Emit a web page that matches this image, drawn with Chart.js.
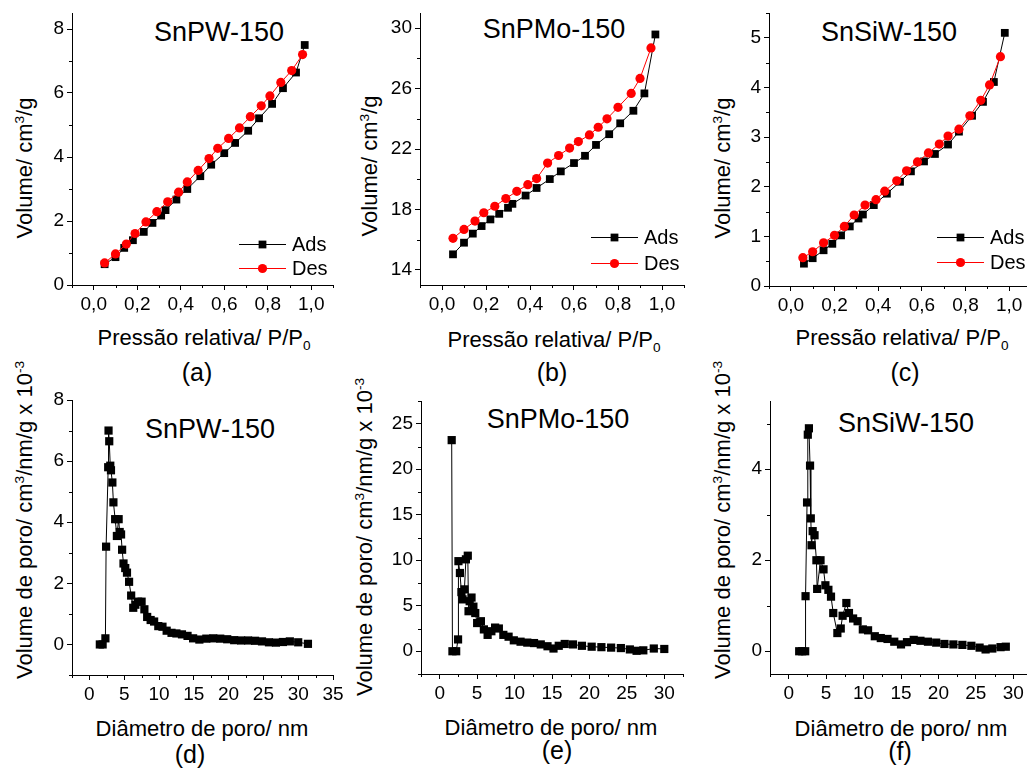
<!DOCTYPE html>
<html>
<head>
<meta charset="utf-8">
<script src="https://cdn.jsdelivr.net/npm/chart.js@4.4.0/dist/chart.umd.min.js"></script>
<style>
html, body { margin: 0; padding: 0; background: #fff; overflow: hidden; }
body { width: 1027px; height: 769px; position: relative; font-family: "Liberation Sans", Arial, sans-serif; color: #000; }
canvas { position: absolute; }
.t { position: absolute; white-space: nowrap; line-height: 1; transform: translate(-50%, -50%); }
.yt { transform: translate(-50%, -50%) rotate(-90deg); }
.ax { font-size: 22px; }
.name { font-size: 27px; }
.lab { font-size: 25px; }
sup, sub { font-size: 0.62em; line-height: 0; }
</style>
</head>
<body>

<!-- titulos dos paineis -->
<div class="t name" style="left:219px;top:32px">SnPW-150</div>
<div class="t name" style="left:554px;top:29px">SnPMo-150</div>
<div class="t name" style="left:889px;top:32px">SnSiW-150</div>
<div class="t name" style="left:210px;top:429px">SnPW-150</div>
<div class="t name" style="left:558px;top:419px">SnPMo-150</div>
<div class="t name" style="left:906px;top:423px">SnSiW-150</div>

<!-- eixos y -->
<div class="t ax yt" style="left:25px;top:168px">Volume/ cm<sup>3</sup>/g</div>
<div class="t ax yt" style="left:370px;top:166px">Volume/ cm<sup>3</sup>/g</div>
<div class="t ax yt" style="left:723px;top:168px">Volume/ cm<sup>3</sup>/g</div>
<div class="t ax yt" style="left:25px;top:520px">Volume de poro/ cm<sup>3</sup>/nm/g x 10<sup>-3</sup></div>
<div class="t ax yt" style="left:365px;top:537px">Volume de poro/ cm<sup>3</sup>/nm/g x 10<sup>-3</sup></div>
<div class="t ax yt" style="left:723px;top:520px">Volume de poro/ cm<sup>3</sup>/nm/g x 10<sup>-3</sup></div>

<!-- eixos x -->
<div class="t ax" style="left:204px;top:338px">Pressão relativa/ P/P<sub>0</sub></div>
<div class="t ax" style="left:554px;top:340px">Pressão relativa/ P/P<sub>0</sub></div>
<div class="t ax" style="left:902px;top:338px">Pressão relativa/ P/P<sub>0</sub></div>
<div class="t ax" style="left:202px;top:729px">Diâmetro de poro/ nm</div>
<div class="t ax" style="left:551px;top:728px">Diâmetro de poro/ nm</div>
<div class="t ax" style="left:901px;top:729px">Diâmetro de poro/ nm</div>

<!-- letras -->
<div class="t lab" style="left:197px;top:372px">(a)</div>
<div class="t lab" style="left:552px;top:372px">(b)</div>
<div class="t lab" style="left:905px;top:372px">(c)</div>
<div class="t lab" style="left:190px;top:754px">(d)</div>
<div class="t lab" style="left:557px;top:750px">(e)</div>
<div class="t lab" style="left:900px;top:751px">(f)</div>

<script>
// ---- dados ----
// (a) SnPW-150 isoterma
const presA_ads = [0.05, 0.10, 0.14, 0.18, 0.23, 0.27, 0.31, 0.33, 0.38, 0.43, 0.49, 0.54, 0.60, 0.65, 0.71, 0.76, 0.82, 0.87, 0.93, 0.97];
const volA_ads  = [0.65, 0.87, 1.16, 1.40, 1.66, 1.94, 2.17, 2.34, 2.67, 3.00, 3.40, 3.76, 4.12, 4.44, 4.82, 5.21, 5.66, 6.15, 6.64, 7.50];
const presA_des = [0.05, 0.10, 0.15, 0.19, 0.24, 0.29, 0.34, 0.39, 0.43, 0.48, 0.53, 0.57, 0.62, 0.67, 0.72, 0.77, 0.81, 0.86, 0.91, 0.96];
const volA_des  = [0.69, 0.97, 1.28, 1.61, 1.97, 2.29, 2.60, 2.90, 3.22, 3.58, 3.95, 4.27, 4.58, 4.91, 5.26, 5.60, 5.91, 6.33, 6.70, 7.20];

// (b) SnPMo-150 isoterma
const presB_ads = [0.05, 0.10, 0.14, 0.18, 0.22, 0.26, 0.30, 0.32, 0.38, 0.43, 0.49, 0.54, 0.60, 0.65, 0.70, 0.76, 0.81, 0.87, 0.92, 0.97];
const volB_ads  = [15.03, 15.80, 16.40, 16.90, 17.34, 17.71, 18.11, 18.37, 18.92, 19.42, 20.01, 20.52, 21.07, 21.55, 22.27, 22.98, 23.70, 24.53, 25.68, 29.58];
const presB_des = [0.05, 0.10, 0.15, 0.19, 0.24, 0.29, 0.34, 0.39, 0.43, 0.48, 0.53, 0.58, 0.62, 0.67, 0.71, 0.75, 0.80, 0.86, 0.90, 0.95];
const volB_des  = [16.09, 16.68, 17.23, 17.78, 18.21, 18.72, 19.20, 19.64, 20.04, 21.07, 21.57, 22.06, 22.49, 22.93, 23.44, 24.00, 24.76, 25.68, 26.67, 28.69];

// (c) SnSiW-150 isoterma
const presC_ads = [0.06, 0.10, 0.15, 0.19, 0.23, 0.27, 0.31, 0.33, 0.38, 0.44, 0.50, 0.55, 0.61, 0.66, 0.72, 0.77, 0.83, 0.88, 0.93, 0.98];
const volC_ads  = [0.45, 0.56, 0.72, 0.85, 1.02, 1.20, 1.36, 1.44, 1.63, 1.86, 2.10, 2.31, 2.51, 2.66, 2.85, 3.11, 3.43, 3.71, 4.11, 5.10];
const presC_des = [0.055, 0.10, 0.15, 0.20, 0.245, 0.29, 0.34, 0.39, 0.43, 0.485, 0.53, 0.58, 0.63, 0.68, 0.72, 0.77, 0.82, 0.87, 0.91, 0.96];
const volC_des  = [0.57, 0.69, 0.87, 1.02, 1.20, 1.43, 1.63, 1.74, 1.91, 2.12, 2.32, 2.50, 2.68, 2.86, 3.02, 3.16, 3.43, 3.74, 4.05, 4.62];

// (d) SnPW-150 distribuicao de poros
const diamD = [1.5, 1.9, 2.3, 2.4, 2.7, 2.75, 2.85, 3.0, 3.1, 3.3, 3.45, 3.7, 3.95, 4.2, 4.35, 4.55, 4.7, 4.9, 5.15, 5.4, 5.7, 6.0, 6.3, 6.6, 7.0, 7.5, 7.9, 8.3, 8.8, 9.3, 9.9, 10.5, 11.1, 11.8, 12.5, 13.3, 14.1, 14.9, 15.8, 16.8, 17.8, 18.8, 19.8, 20.8, 21.8, 22.8, 23.8, 24.8, 25.8, 26.8, 27.8, 28.8, 30.0, 31.4];
const volD  = [0, 0, 0.2, 3.2, 5.8, 7.0, 6.65, 5.85, 5.7, 5.3, 4.65, 4.1, 3.55, 4.1, 3.68, 3.6, 3.1, 2.65, 2.5, 2.35, 2.05, 1.6, 1.2, 1.3, 1.4, 1.4, 1.15, 0.9, 0.8, 0.75, 0.6, 0.58, 0.45, 0.38, 0.36, 0.33, 0.28, 0.2, 0.16, 0.19, 0.2, 0.19, 0.17, 0.14, 0.13, 0.13, 0.12, 0.1, 0.07, 0.06, 0.08, 0.1, 0.07, 0.02];

// (e) SnPMo-150 distribuicao de poros
const diamE = [1.6, 1.7, 2.2, 2.45, 2.5, 2.7, 2.9, 3.05, 3.3, 3.5, 3.75, 3.85, 4.0, 4.25, 4.5, 4.75, 5.0, 5.5, 5.9, 6.4, 6.9, 7.4, 7.9, 8.5, 9.2, 9.9, 10.8, 11.7, 12.6, 13.5, 14.4, 15.2, 15.9, 16.7, 17.8, 19.0, 20.3, 21.6, 22.9, 24.2, 25.4, 26.3, 27.2, 28.6, 30.0];
const volE  = [23.2, 0, 0, 1.3, 9.9, 8.6, 6.5, 5.7, 6.8, 10.1, 10.5, 4.4, 5.5, 5.9, 4.9, 4.2, 3.1, 3.3, 2.4, 1.8, 2.2, 2.6, 2.5, 1.8, 1.6, 1.2, 1.05, 0.95, 0.9, 0.75, 0.55, 0.3, 0.6, 0.8, 0.75, 0.6, 0.5, 0.45, 0.4, 0.35, 0.2, 0.05, 0.1, 0.3, 0.25];

// (f) SnSiW-150 distribuicao de poros
const diamF = [1.4, 1.8, 2.2, 2.25, 2.45, 2.55, 2.7, 2.85, 2.95, 3.05, 3.2, 3.45, 3.7, 3.8, 4.25, 4.65, 4.9, 5.3, 5.65, 5.95, 6.5, 6.95, 7.2, 7.7, 8.05, 8.6, 9.2, 9.9, 10.6, 11.5, 12.3, 13.2, 14.1, 15.0, 15.8, 16.7, 17.6, 18.6, 19.7, 20.8, 22.0, 23.2, 24.4, 25.5, 26.3, 27.2, 28.3, 29.0];
const volF  = [0, 0, 0, 1.21, 3.27, 4.76, 4.9, 4.08, 2.92, 2.33, 2.64, 2.55, 2.0, 1.37, 2.0, 1.8, 1.45, 1.35, 1.2, 0.84, 0.4, 0.5, 0.78, 1.06, 0.84, 0.72, 0.66, 0.48, 0.46, 0.33, 0.29, 0.27, 0.21, 0.15, 0.2, 0.25, 0.23, 0.21, 0.19, 0.16, 0.15, 0.14, 0.12, 0.08, 0.04, 0.06, 0.09, 0.1];

// ---- aparencia ----
const FONT = '"Liberation Sans", Arial, sans-serif';
const INK = '#000';
const RED = '#ff0000';

function pts(xs, ys) {
    return xs.map((x, i) => ({ x: x, y: ys[i] }));
}

function range(a, b, step) {
    const out = [];
    for (let v = a; v <= b + 1e-9; v += step) out.push(Math.round(v * 1000) / 1000);
    return out;
}

const comma = v => v.toFixed(1).replace('.', ',');

// tracinhos menores nos eixos
const minorTicks = {
    id: 'minorTicks',
    afterDraw(chart, args, opts) {
        const ctx = chart.ctx;
        const xs = chart.scales.x, ys = chart.scales.y;
        ctx.save();
        ctx.strokeStyle = INK;
        ctx.lineWidth = 1;
        (opts.x || []).forEach(v => {
            const px = Math.round(xs.getPixelForValue(v)) + 0.5;
            ctx.beginPath();
            ctx.moveTo(px, xs.top);
            ctx.lineTo(px, xs.top + 3);
            ctx.stroke();
        });
        (opts.y || []).forEach(v => {
            const py = Math.round(ys.getPixelForValue(v)) + 0.5;
            ctx.beginPath();
            ctx.moveTo(ys.right, py);
            ctx.lineTo(ys.right - 3, py);
            ctx.stroke();
        });
        ctx.restore();
    }
};

// legenda estilo Origin: linha + simbolo
const lineLegend = {
    id: 'lineLegend',
    afterDraw(chart, args, opts) {
        if (!opts.show) return;
        const ctx = chart.ctx;
        const area = chart.chartArea;
        const x0 = area.right + opts.dx;
        chart.data.datasets.forEach((ds, i) => {
            const y = area.bottom + opts.dy + i * opts.gap;
            ctx.save();
            ctx.strokeStyle = ds.borderColor;
            ctx.lineWidth = 1;
            ctx.beginPath();
            ctx.moveTo(x0, y + 0.5);
            ctx.lineTo(x0 + 47, y + 0.5);
            ctx.stroke();
            ctx.fillStyle = ds.pointBackgroundColor;
            Chart.helpers.drawPoint(ctx, {
                pointStyle: ds.pointStyle, radius: ds.pointRadius, borderWidth: 0, rotation: 0
            }, x0 + 23.5, y + 0.5);
            ctx.fillStyle = INK;
            ctx.font = '20px ' + FONT;
            ctx.textBaseline = 'middle';
            ctx.textAlign = 'left';
            ctx.fillText(ds.label, x0 + 53, y + 1);
            ctx.restore();
        });
    }
};

Chart.register(minorTicks, lineLegend);

function makePanel(p) {
    const padL = 20, padT = 20, padR = 30, padB = 10, yW = 40, xH = 35;
    const box = p.box;
    const canvas = document.createElement('canvas');
    const w = (box.r - box.l) + padL + yW + padR;
    const h = (box.b - box.t) + padT + xH + padB;
    canvas.width = w;
    canvas.height = h;
    canvas.style.width = w + 'px';
    canvas.style.height = h + 'px';
    canvas.style.left = (box.l - padL - yW) + 'px';
    canvas.style.top = (box.t - padT) + 'px';
    document.body.appendChild(canvas);

    const tickFont = { size: 19, family: FONT };

    new Chart(canvas.getContext('2d'), {
        type: 'scatter',
        data: { datasets: p.datasets },
        options: {
            responsive: false,
            animation: false,
            devicePixelRatio: 1,
            events: [],
            layout: { padding: { left: padL, top: padT, right: padR, bottom: padB } },
            scales: {
                x: {
                    type: 'linear',
                    min: p.x.min, max: p.x.max,
                    afterBuildTicks: s => { s.ticks = p.x.major.map(v => ({ value: v })); },
                    afterFit: s => { s.height = xH; },
                    ticks: { callback: p.x.fmt, font: tickFont, color: INK, padding: 3, maxRotation: 0, autoSkip: false },
                    grid: { drawOnChartArea: false, tickLength: 5, tickColor: INK, tickWidth: 1 },
                    border: { color: INK, width: 1 }
                },
                y: {
                    type: 'linear',
                    min: p.y.min, max: p.y.max,
                    afterBuildTicks: s => { s.ticks = p.y.major.map(v => ({ value: v })); },
                    afterFit: s => { s.width = yW; },
                    ticks: { callback: p.y.fmt, font: tickFont, color: INK, padding: 3, autoSkip: false },
                    grid: { drawOnChartArea: false, tickLength: 5, tickColor: INK, tickWidth: 1 },
                    border: { color: INK, width: 1 }
                }
            },
            plugins: {
                legend: { display: false },
                tooltip: { enabled: false },
                minorTicks: { x: p.x.minor, y: p.y.minor },
                lineLegend: p.legend || { show: false }
            }
        }
    });
}

function isoSets(xa, ya, xd, yd) {
    return [
        { label: 'Ads', data: pts(xa, ya), showLine: true, borderColor: INK, borderWidth: 1,
          pointStyle: 'rect', pointRadius: 5.5, pointBackgroundColor: INK, pointBorderWidth: 0, order: 1 },
        { label: 'Des', data: pts(xd, yd), showLine: true, borderColor: RED, borderWidth: 1,
          pointStyle: 'circle', pointRadius: 4.6, pointBackgroundColor: RED, pointBorderWidth: 0, order: 0 }
    ];
}

function poreSet(xs, ys) {
    return [{ label: 'BJH', data: pts(xs, ys), showLine: true, borderColor: INK, borderWidth: 1,
              pointStyle: 'rect', pointRadius: 5.8, pointBackgroundColor: INK, pointBorderWidth: 0 }];
}

const presAxis = { min: -0.1, max: 1.1, major: range(0, 1, 0.2), minor: range(-0.1, 1.1, 0.2), fmt: comma };
const intFmt = v => String(v);

// (a)
makePanel({
    box: { l: 72, t: 13, r: 333, b: 285 },
    datasets: isoSets(presA_ads, volA_ads, presA_des, volA_des),
    x: presAxis,
    y: { min: 0, max: 8.5, major: range(0, 8, 2), minor: range(1, 7, 2), fmt: intFmt },
    legend: { show: true, dx: -94, dy: -41, gap: 24 }
});
// (b)
makePanel({
    box: { l: 420, t: 13, r: 684, b: 285 },
    datasets: isoSets(presB_ads, volB_ads, presB_des, volB_des),
    x: presAxis,
    y: { min: 13, max: 31, major: range(14, 30, 4), minor: range(16, 28, 4), fmt: intFmt },
    legend: { show: true, dx: -93, dy: -48, gap: 26 }
});
// (c)
makePanel({
    box: { l: 769, t: 13, r: 1031, b: 286 },
    datasets: isoSets(presC_ads, volC_ads, presC_des, volC_des),
    x: presAxis,
    y: { min: 0, max: 5.5, major: range(0, 5, 1), minor: range(0.5, 5.5, 1), fmt: intFmt },
    legend: { show: true, dx: -94, dy: -49, gap: 25 }
});
// (d)
makePanel({
    box: { l: 72, t: 400, r: 333, b: 675 },
    datasets: poreSet(diamD, volD),
    x: { min: -2.5, max: 35, major: range(0, 35, 5), minor: range(-2.5, 32.5, 5), fmt: intFmt },
    y: { min: -1, max: 8, major: range(0, 8, 2), minor: range(-1, 7, 2), fmt: intFmt }
});
// (e)
makePanel({
    box: { l: 421, t: 401, r: 683, b: 674 },
    datasets: poreSet(diamE, volE),
    x: { min: -2.5, max: 32.5, major: range(0, 30, 5), minor: range(-2.5, 32.5, 5), fmt: intFmt },
    y: { min: -2.5, max: 27.5, major: range(0, 25, 5), minor: range(-2.5, 27.5, 5), fmt: intFmt }
});
// (f)
makePanel({
    box: { l: 770, t: 401, r: 1032, b: 674 },
    datasets: poreSet(diamF, volF),
    x: { min: -2.5, max: 32.5, major: range(0, 30, 5), minor: range(-2.5, 32.5, 5), fmt: intFmt },
    y: { min: -0.5, max: 5.5, major: range(0, 4, 2), minor: range(1, 5, 2), fmt: intFmt }
});
</script>
</body>
</html>
